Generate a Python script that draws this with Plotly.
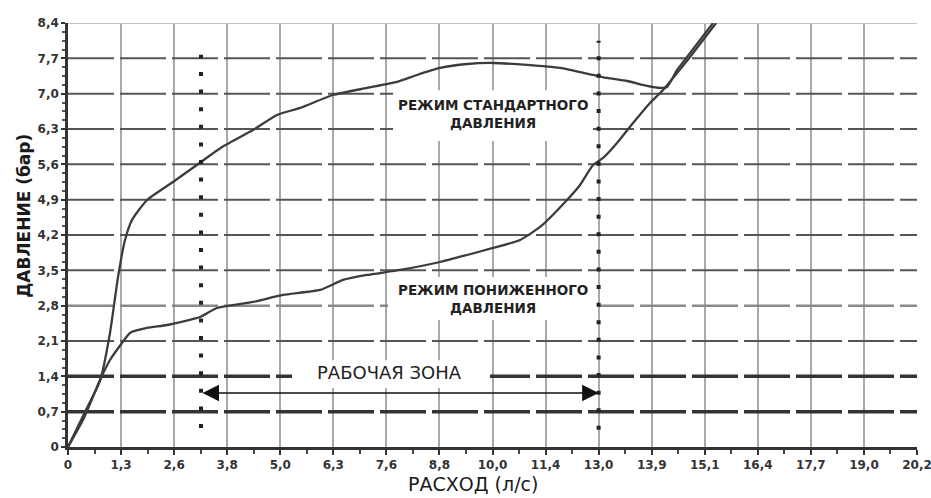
import plotly.graph_objects as go

# ---------------- data ----------------
X_TICK_LABELS = ["0", "1,3", "2,6", "3,8", "5,0", "6,3", "7,6", "8,8", "10,0",
                 "11,4", "13,0", "13,9", "15,1", "16,4", "17,7", "19,0", "20,2"]
X_MAX = 20.2
Y_TICKS = [0, 0.7, 1.4, 2.1, 2.8, 3.5, 4.2, 4.9, 5.6, 6.3, 7.0, 7.7, 8.4]
Y_TICK_LABELS = ["0", "0,7", "1,4", "2,1", "2,8", "3,5", "4,2", "4,9",
                 "5,6", "6,3", "7,0", "7,7", "8,4"]

# Standard pressure mode (upper curve)
STD_X = [0, 0.381, 0.761, 0.999, 1.190, 1.356, 1.523, 1.880, 2.498, 3.165,
         3.664, 4.402, 4.973, 5.520, 6.305, 7.114, 7.828, 8.304, 8.851, 9.494,
         10.112, 10.921, 11.707, 12.492, 12.825, 13.301, 13.777, 14.086,
         14.253, 14.491, 14.729, 15.038, 15.347]
STD_Y = [0, 0.654, 1.308, 2.259, 3.368, 4.101, 4.498, 4.894, 5.250, 5.647,
         5.944, 6.281, 6.578, 6.717, 6.974, 7.113, 7.232, 7.370, 7.509, 7.588,
         7.608, 7.569, 7.509, 7.370, 7.311, 7.251, 7.153, 7.113,
         7.133, 7.470, 7.727, 8.064, 8.400]

# Reduced pressure mode (lower curve)
LOW_X = [0, 0.381, 0.761, 0.999, 1.285, 1.475, 1.880, 2.356, 3.141, 3.545,
         4.402, 5.116, 5.996, 6.543, 7.114, 7.900, 8.851, 9.494, 10.112,
         10.755, 11.231, 11.873, 12.183, 12.492, 12.730, 13.063, 13.444,
         13.848, 14.158, 14.491, 14.801, 15.110, 15.419]
LOW_Y = [0, 0.575, 1.327, 1.724, 2.061, 2.259, 2.358, 2.417, 2.576, 2.754,
         2.873, 3.012, 3.111, 3.309, 3.408, 3.507, 3.665, 3.804, 3.943,
         4.101, 4.359, 4.894, 5.191, 5.587, 5.726, 6.023, 6.419,
         6.816, 7.073, 7.410, 7.727, 8.064, 8.400]

WORK_ZONE_X = [3.165, 12.625]     # dotted boundaries (l/s)
WORK_ZONE_Y_LEFT = [0.376, 7.77]
WORK_ZONE_Y_RIGHT = [0.34, 8.05]
ARROW_Y = 1.07

LABEL_STD = "РЕЖИМ СТАНДАРТНОГО<br>ДАВЛЕНИЯ"
LABEL_LOW = "РЕЖИМ ПОНИЖЕННОГО<br>ДАВЛЕНИЯ"
LABEL_ZONE = "РАБОЧАЯ ЗОНА"
X_TITLE = "РАСХОД (л/с)"
Y_TITLE = "ДАВЛЕНИЕ (бар)"

# ---------------- figure ----------------
n = len(X_TICK_LABELS) - 1
step = X_MAX / n
x_tickvals = [round(i * step, 6) for i in range(n + 1)]
x_minor = [round((i + 0.5) * step, 6) for i in range(n)]

FONT = "DejaVu Sans"
CURVE_COLOR = "#3c3c3c"

fig = go.Figure()
fig.add_trace(go.Scatter(x=STD_X, y=STD_Y, mode="lines",
                         line=dict(color=CURVE_COLOR, width=2.3, shape="spline", smoothing=0.5),
                         showlegend=False, hoverinfo="skip"))
fig.add_trace(go.Scatter(x=LOW_X, y=LOW_Y, mode="lines",
                         line=dict(color=CURVE_COLOR, width=2.3, shape="spline", smoothing=0.5),
                         showlegend=False, hoverinfo="skip"))

shapes = []
# horizontal dashed grid lines
for v in Y_TICKS[1:-1]:
    if v in (0.7, 1.4):
        col, w = "#333333", 3.5
    elif v == 2.8:
        col, w = "#8a8a8a", 2.5
    else:
        col, w = "#555555", 2
    shapes.append(dict(type="line", layer="between", xref="x", yref="y",
                       x0=0, x1=X_MAX, y0=v, y1=v,
                       line=dict(color=col, width=w, dash="46px,6px")))
# top border
shapes.append(dict(type="line", layer="between", xref="x", yref="y",
                   x0=0, x1=X_MAX, y0=Y_TICKS[-1], y1=Y_TICKS[-1],
                   line=dict(color="#c4c4c4", width=2)))

# white label boxes hiding the grid
def box(x0, x1, y0, y1):
    return dict(type="rect", layer="between", xref="x", yref="y",
                x0=x0, x1=x1, y0=y0, y1=y1, fillcolor="white",
                line=dict(width=0))

shapes.append(box(7.733, 12.49, 6.06, 7.07))
shapes.append(box(7.614, 12.587, 2.516, 3.368))
shapes.append(box(5.33, 10.04, 1.17, 1.72))

# dotted boundaries of the working zone
for xv, (ya, yb) in zip(WORK_ZONE_X, [WORK_ZONE_Y_LEFT, WORK_ZONE_Y_RIGHT]):
    shapes.append(dict(type="line", layer="above", xref="x", yref="y",
                       x0=xv, x1=xv, y0=ya, y1=yb,
                       line=dict(color="#222222", width=4, dash="4px,13.6px")))

annotations = [
    dict(x=10.11, y=6.59, xref="x", yref="y", text=LABEL_STD, showarrow=False,
         font=dict(family=FONT, size=13.5, color="#222", weight="bold"), align="center"),
    dict(x=10.10, y=2.94, xref="x", yref="y", text=LABEL_LOW, showarrow=False,
         font=dict(family=FONT, size=13.5, color="#222", weight="bold"), align="center"),
    dict(x=7.66, y=1.47, xref="x", yref="y", text=LABEL_ZONE, showarrow=False,
         font=dict(family=FONT, size=18, color="#222")),
    # double-headed arrow
    dict(x=WORK_ZONE_X[1], y=ARROW_Y, ax=WORK_ZONE_X[0], ay=ARROW_Y,
         xref="x", yref="y", axref="x", ayref="y", text="", showarrow=True,
         arrowhead=2, startarrowhead=2, arrowside="end+start", arrowsize=2.2,
         startarrowsize=2.2, arrowwidth=1.5, arrowcolor="#111", standoff=0, startstandoff=0),
    dict(x=0.4776, y=-0.088, xref="paper", yref="paper", text=X_TITLE, showarrow=False,
         xanchor="center", yanchor="middle",
         font=dict(family=FONT, size=19, color="#1a1a1a")),
    dict(x=-0.052, y=0.545, xref="paper", yref="paper", text=Y_TITLE, showarrow=False,
         textangle=-90, xanchor="center", yanchor="middle",
         font=dict(family=FONT, size=17, color="#1a1a1a", weight="bold")),
]

fig.update_layout(
    width=931, height=498,
    margin=dict(l=68, r=14, t=23, b=51),
    paper_bgcolor="white", plot_bgcolor="white",
    shapes=shapes, annotations=annotations,
    font=dict(family=FONT),
    xaxis=dict(range=[0, X_MAX + 1e-6], tickmode="array", tickvals=x_tickvals,
               ticktext=X_TICK_LABELS, showgrid=True, gridcolor="#a9a9a9",
               gridwidth=2, zeroline=False, showline=True, linecolor="#333",
               linewidth=2.5, ticks="outside", ticklen=5, tickwidth=2,
               tickcolor="#333", ticklabeloverflow="allow",
               tickfont=dict(family=FONT, size=12, color="#333", weight="bold"),
               minor=dict(tickmode="array", tickvals=x_minor, ticks="outside",
                          ticklen=4, tickwidth=2, tickcolor="#444", showgrid=False),
               automargin=False, fixedrange=True),
    yaxis=dict(range=[0, Y_TICKS[-1]], tickmode="array", tickvals=Y_TICKS,
               ticktext=Y_TICK_LABELS, showgrid=False, zeroline=False,
               showline=True, linecolor="#333", linewidth=2.5,
               ticks="outside", ticklen=4, tickwidth=2, tickcolor="#333",
               tickfont=dict(family=FONT, size=12, color="#333", weight="bold"),
               minor=dict(dtick=0.175, tick0=0, ticks="outside", ticklen=3,
                          tickwidth=1.5, tickcolor="#555", showgrid=False),
               automargin=False, fixedrange=True),
)

fig.write_html("out.html")
